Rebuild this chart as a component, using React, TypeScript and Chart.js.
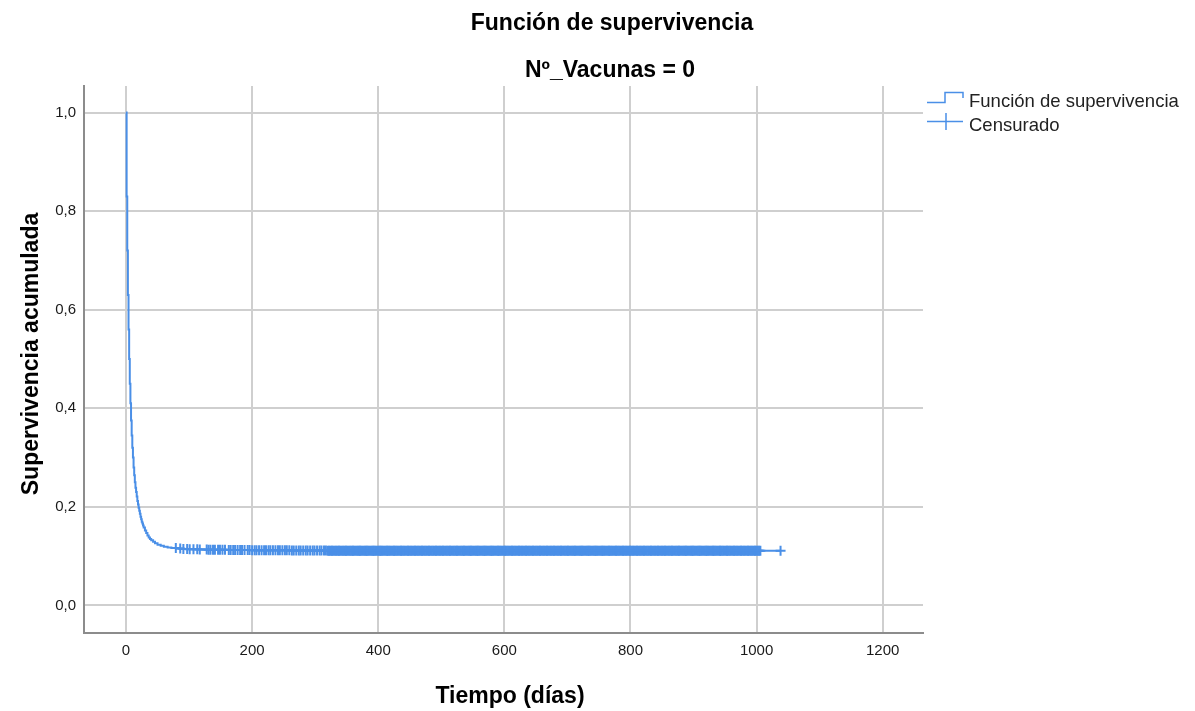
import { useEffect, useRef } from 'react';
import { Chart, registerables } from 'chart.js';

Chart.register(...registerables);

const chartTitle = 'Función de supervivencia';
const chartSubtitle = 'Nº_Vacunas = 0';
const xAxisTitle = 'Tiempo (días)';
const yAxisTitle = 'Supervivencia acumulada';
const legendLabels = ['Función de supervivencia', 'Censurado'];

const xTicks = [0, 200, 400, 600, 800, 1000, 1200];
const yTicks = [0, 0.2, 0.4, 0.6, 0.8, 1.0];

// Kaplan-Meier step curve (time in days, cumulative survival)
const eventTimes = [
  0, 1, 2, 3, 4, 5, 6, 7, 8, 9, 10, 11, 12, 13, 14, 15, 16, 17, 18, 19, 20, 21, 22, 23, 24, 25, 26, 27, 28,
  30, 32, 34, 36, 38, 40, 43, 46, 50, 55, 60, 66, 72, 80, 90, 100, 115, 130, 160, 200, 260, 320, 1038,
];
const survival = [
  1.0, 0.83, 0.72, 0.63, 0.56, 0.5, 0.45, 0.41, 0.375, 0.345, 0.32, 0.3, 0.28, 0.264, 0.25, 0.239, 0.23, 0.221,
  0.212, 0.205, 0.198, 0.192, 0.186, 0.18, 0.175, 0.17, 0.166, 0.162, 0.158, 0.152, 0.147, 0.142, 0.138, 0.135,
  0.132, 0.129, 0.126, 0.123, 0.121, 0.119, 0.1175, 0.1165, 0.1155, 0.1145, 0.114, 0.1135, 0.113, 0.1125, 0.112,
  0.1115, 0.111, 0.111,
];

// Censored observation times (days)
const censoredTimes = [
  79, 86, 91, 97, 101, 107, 113, 117, 128, 131, 134, 138, 141, 146, 149, 153, 157, 163, 166, 170,
  173, 177, 181, 184, 188, 193, 196, 200, 204, 207, 211, 215, 219, 222, 226, 229, 233, 237, 241, 244,
  248, 252, 255, 259, 263, 266, 270, 274, 277, 281, 285, 288, 292, 296, 299, 303, 307, 310, 314, 317,
  320, 322, 324, 326, 327, 329, 331, 333, 335, 337, 338, 340, 342, 344, 346, 348, 349, 351, 353, 355,
  357, 359, 360, 362, 364, 366, 368, 370, 371, 373, 375, 377, 379, 381, 382, 384, 386, 388, 390, 392,
  393, 395, 397, 399, 401, 403, 404, 406, 408, 410, 412, 414, 415, 417, 419, 421, 423, 425, 426, 428,
  430, 432, 434, 436, 437, 439, 441, 443, 445, 447, 448, 450, 452, 454, 456, 458, 459, 461, 463, 465,
  467, 469, 470, 472, 474, 476, 478, 480, 481, 483, 485, 487, 489, 491, 492, 494, 496, 498, 500, 502,
  503, 505, 507, 509, 511, 513, 514, 516, 518, 520, 522, 524, 525, 527, 529, 531, 533, 535, 536, 538,
  540, 542, 544, 546, 547, 549, 551, 553, 555, 557, 558, 560, 562, 564, 566, 568, 569, 571, 573, 575,
  577, 579, 580, 582, 584, 586, 588, 590, 591, 593, 595, 597, 599, 601, 602, 604, 606, 608, 610, 612,
  613, 615, 617, 619, 621, 623, 624, 626, 628, 630, 632, 634, 635, 637, 639, 641, 643, 645, 646, 648,
  650, 652, 654, 656, 657, 659, 661, 663, 665, 667, 668, 670, 672, 674, 676, 678, 679, 681, 683, 685,
  687, 689, 690, 692, 694, 696, 698, 700, 701, 703, 705, 707, 709, 711, 712, 714, 716, 718, 720, 722,
  723, 725, 727, 729, 731, 733, 734, 736, 738, 740, 742, 744, 745, 747, 749, 751, 753, 755, 756, 758,
  760, 762, 764, 766, 767, 769, 771, 773, 775, 777, 778, 780, 782, 784, 786, 788, 789, 791, 793, 795,
  797, 799, 800, 802, 804, 806, 808, 810, 811, 813, 815, 817, 819, 821, 822, 824, 826, 828, 830, 832,
  833, 835, 837, 839, 841, 843, 844, 846, 848, 850, 852, 854, 855, 857, 859, 861, 863, 865, 866, 868,
  870, 872, 874, 876, 877, 879, 881, 883, 885, 887, 888, 890, 892, 894, 896, 898, 899, 901, 903, 905,
  907, 909, 910, 912, 914, 916, 918, 920, 921, 923, 925, 927, 929, 931, 932, 934, 936, 938, 940, 942,
  943, 945, 947, 949, 951, 953, 954, 956, 958, 960, 962, 964, 965, 967, 969, 971, 973, 975, 976, 978,
  980, 982, 984, 986, 987, 989, 991, 993, 995, 997, 998, 1000, 1002, 1004, 1006, 1038,
];

const LINE_COLOR = '#4a8fe7';
const FONT = '"Liberation Sans", Arial, sans-serif';

function survivalAt(t: number): number {
  let s = survival[0];
  for (let i = 0; i < eventTimes.length; i++) {
    if (eventTimes[i] <= t) s = survival[i];
  }
  return s;
}

const overlayPlugin = {
  id: 'overlay',
  afterDraw(chart: any) {
    const ctx: CanvasRenderingContext2D = chart.ctx;
    ctx.save();
    ctx.fillStyle = '#000';
    ctx.textBaseline = 'alphabetic';
    ctx.textAlign = 'center';
    ctx.font = `bold 23px ${FONT}`;
    ctx.fillText(chartTitle, 612, 29.5);
    ctx.fillText(chartSubtitle, 610, 77);
    ctx.fillText(xAxisTitle, 510, 703);
    ctx.save();
    ctx.translate(38, 354);
    ctx.rotate(-Math.PI / 2);
    ctx.fillText(yAxisTitle, 0, 0);
    ctx.restore();

    // legend
    ctx.strokeStyle = LINE_COLOR;
    ctx.lineWidth = 1.5;
    ctx.beginPath();
    ctx.moveTo(927, 102.5);
    ctx.lineTo(945, 102.5);
    ctx.lineTo(945, 92.5);
    ctx.lineTo(963, 92.5);
    ctx.lineTo(963, 98);
    ctx.stroke();
    ctx.beginPath();
    ctx.moveTo(927, 121.5);
    ctx.lineTo(963, 121.5);
    ctx.moveTo(946, 113);
    ctx.lineTo(946, 130);
    ctx.stroke();

    ctx.fillStyle = '#222';
    ctx.textAlign = 'left';
    ctx.font = `18.5px ${FONT}`;
    ctx.fillText(legendLabels[0], 969, 106.5);
    ctx.fillText(legendLabels[1], 969, 131);
    ctx.restore();
  },
};

export default function App() {
  const canvasRef = useRef<HTMLCanvasElement | null>(null);

  useEffect(() => {
    const canvas = canvasRef.current;
    if (!canvas) return;
    const curve = eventTimes.map((t, i) => ({ x: t, y: survival[i] }));
    const censored = censoredTimes.map((t) => ({ x: t, y: survivalAt(t) }));

    const chart = new Chart(canvas, {
      type: 'line',
      data: {
        datasets: [
          {
            label: legendLabels[0],
            data: curve,
            borderColor: LINE_COLOR,
            borderWidth: 2,
            stepped: true,
            pointRadius: 0,
            fill: false,
          },
          {
            label: legendLabels[1],
            data: censored,
            showLine: false,
            pointStyle: 'cross',
            pointRadius: 5,
            pointBorderWidth: 2,
            pointBorderColor: LINE_COLOR,
            pointBackgroundColor: LINE_COLOR,
            borderColor: LINE_COLOR,
          },
        ],
      },
      options: {
        responsive: false,
        animation: false,
        devicePixelRatio: 1,
        layout: { padding: { left: 0, top: 86, right: 272, bottom: 0 } },
        plugins: {
          legend: { display: false },
          title: { display: false },
          tooltip: { enabled: false },
        },
        scales: {
          x: {
            type: 'linear',
            min: -66.6,
            max: 1263.9,
            afterBuildTicks: (scale: any) => {
              scale.ticks = xTicks.map((v) => ({ value: v }));
            },
            afterFit: (scale: any) => {
              scale.height = 78;
            },
            grid: { color: '#cfcfcf', lineWidth: 2, drawTicks: false },
            border: { display: true, color: '#8c8c8c', width: 2 },
            ticks: {
              padding: 9,
              color: '#1a1a1a',
              font: { family: FONT, size: 15 },
              callback: (v: any) => String(v),
            },
          },
          y: {
            type: 'linear',
            min: -0.056,
            max: 1.054,
            afterBuildTicks: (scale: any) => {
              scale.ticks = yTicks.map((v) => ({ value: v }));
            },
            afterFit: (scale: any) => {
              scale.width = 84;
            },
            grid: { color: '#cfcfcf', lineWidth: 2, drawTicks: false },
            border: { display: true, color: '#8c8c8c', width: 2 },
            ticks: {
              padding: 8,
              color: '#1a1a1a',
              font: { family: FONT, size: 15 },
              callback: (v: any) => Number(v).toFixed(1).replace('.', ','),
            },
          },
        },
      },
      plugins: [overlayPlugin],
    });
    return () => chart.destroy();
  }, []);

  return (
    <div style={{ position: 'absolute', left: 0, top: 0, width: 1195, height: 711, background: '#fff' }}>
      <canvas ref={canvasRef} width={1195} height={711} style={{ display: 'block' }} />
    </div>
  );
}
